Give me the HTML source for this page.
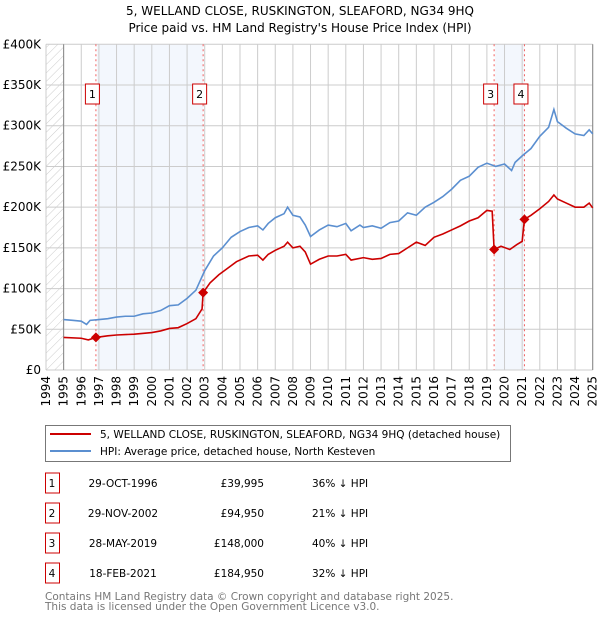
<!DOCTYPE html>
<html><head><meta charset="utf-8"><style>
body{margin:0;background:#fff}
svg{font-family:"DejaVu Sans","Liberation Sans",sans-serif}
</style></head><body>
<svg id="chart" width="600" height="620" xmlns="http://www.w3.org/2000/svg">
<defs><pattern id="hatch" width="6" height="6" patternUnits="userSpaceOnUse" patternTransform="rotate(45)"><line x1="0" y1="0" x2="0" y2="6" stroke="#ccc" stroke-width="1"/></pattern></defs>
<text x="300" y="15" text-anchor="middle" font-size="12">5, WELLAND CLOSE, RUSKINGTON, SLEAFORD, NG34 9HQ</text>
<text x="300" y="32" text-anchor="middle" font-size="12">Price paid vs. HM Land Registry's House Price Index (HPI)</text>
<g id="plot"></g>
<g>
<rect x="45.5" y="425.5" width="465" height="36" fill="#fff" stroke="#777"/>
<line x1="50" y1="434" x2="91" y2="434" stroke="#cc0000" stroke-width="2"/>
<text x="100" y="438" font-size="10.5">5, WELLAND CLOSE, RUSKINGTON, SLEAFORD, NG34 9HQ (detached house)</text>
<line x1="50" y1="451" x2="91" y2="451" stroke="#5b8fd0" stroke-width="2"/>
<text x="100" y="455" font-size="10.5">HPI: Average price, detached house, North Kesteven</text>
</g>
<g id="table" font-size="10.5"></g>
<text x="45" y="600" font-size="10.5" fill="#777">Contains HM Land Registry data © Crown copyright and database right 2025.</text>
<text x="45" y="610" font-size="10.5" fill="#777">This data is licensed under the Open Government Licence v3.0.</text>
</svg>
<script>
const hpiYears=[1995,1995.5,1996,1996.3,1996.5,1997,1997.5,1998,1998.5,1999,1999.5,2000,2000.5,2001,2001.5,2002,2002.5,2003,2003.5,2004,2004.5,2005,2005.5,2006,2006.3,2006.6,2007,2007.5,2007.7,2008,2008.4,2008.7,2009,2009.5,2010,2010.5,2011,2011.3,2011.8,2012,2012.5,2013,2013.5,2014,2014.5,2015,2015.5,2016,2016.5,2017,2017.5,2018,2018.5,2019,2019.5,2020,2020.4,2020.6,2021,2021.5,2022,2022.5,2022.8,2023,2023.5,2024,2024.5,2024.8,2025];
const hpiValues=[62,61,60,56,61,62,63,65,66,66,69,70,73,79,80,88,98,122,140,150,163,170,175,177,172,180,187,192,200,190,188,178,164,172,178,176,180,171,178,175,177,174,181,183,193,190,200,206,213,222,233,238,249,254,250,253,245,255,263,272,287,298,320,305,297,290,288,295,290];
const ppYears=[1995,1996,1996.4,1996.83,1997.5,1998,1999,2000,2000.5,2001,2001.5,2002,2002.5,2002.85,2002.91,2003.3,2003.8,2004.3,2004.8,2005.5,2006,2006.3,2006.6,2007,2007.5,2007.7,2008,2008.4,2008.7,2009,2009.5,2010,2010.5,2011,2011.3,2012,2012.5,2013,2013.5,2014,2014.5,2015,2015.5,2016,2016.5,2017,2017.5,2018,2018.5,2019,2019.3,2019.41,2019.8,2020.3,2020.7,2021.0,2021.13,2021.5,2022,2022.5,2022.8,2023,2023.5,2024,2024.5,2024.8,2025];
const ppValues=[40,39,37,40,42,43,44,46,48,51,52,57,63,75,95,107,117,125,133,140,141,135,142,147,152,157,150,152,145,130,136,140,140,142,135,138,136,137,142,143,150,157,153,163,167,172,177,183,187,196,195,148,152,148,154,158,185,190,198,207,215,210,205,200,200,205,199];
const saleYears=[1996.83,2002.91,2019.41,2021.13];
const saleValues=[39.995,94.95,148,184.95];
const saleLabels=["1","2","3","4"];
const saleDates=["29-OCT-1996","29-NOV-2002","28-MAY-2019","18-FEB-2021"];
const salePrices=["£39,995","£94,950","£148,000","£184,950"];
const saleDiffs=["36% ↓ HPI","21% ↓ HPI","40% ↓ HPI","32% ↓ HPI"];
const yTicks=[0,50,100,150,200,250,300,350,400];
const yTickLabels=["£0","£50K","£100K","£150K","£200K","£250K","£300K","£350K","£400K"];
const xTicks=[1994,1995,1996,1997,1998,1999,2000,2001,2002,2003,2004,2005,2006,2007,2008,2009,2010,2011,2012,2013,2014,2015,2016,2017,2018,2019,2020,2021,2022,2023,2024,2025];

const NS="http://www.w3.org/2000/svg";
const X0=46,X1=592.7,Y0=370,Y1=44.3;
const xs=y=>X0+(y-1994)/31*(X1-X0);
const ys=v=>Y0-v/400*(Y0-Y1);
const plot=document.getElementById('plot');
function mk(tag,attrs,parent){const e=document.createElementNS(NS,tag);for(const k in attrs)e.setAttribute(k,attrs[k]);(parent||plot).appendChild(e);return e;}

let r=mk('rect',{x:X0,y:Y1,width:xs(1995)-X0,height:Y0-Y1,fill:'url(#hatch)'});


for(let i=0;i<2;i++){
 const s=mk('rect',{x:xs(saleYears[i*2])+1,y:Y1,width:xs(saleYears[i*2+1])-xs(saleYears[i*2])-1,height:Y0-Y1,fill:'#f3f7fd'});
 
 
}
yTicks.forEach((t,i)=>{
 const l=mk('line',{x1:X0,x2:X1,y1:ys(t),y2:ys(t),stroke:'#ccc'});
 
 
 const tx=mk('text',{x:X0-5,y:ys(t)+4,'text-anchor':'end','font-size':12});
 tx.textContent=yTickLabels[i];
 
 
});
xTicks.forEach(t=>{
 const l=mk('line',{x1:xs(t),x2:xs(t),y1:Y1,y2:Y0,stroke:'#ccc'});
 
 
 const tx=mk('text',{x:0,y:0,'text-anchor':'end','font-size':12,transform:`translate(${xs(t)+4},${Y0+6}) rotate(-90)`});
 tx.textContent=t;
 
 
});
let ax=mk('line',{x1:xs(1995),x2:xs(1995),y1:Y1,y2:Y0,stroke:'#888'});


let ax2=mk('line',{x1:X1,x2:X1,y1:Y1,y2:Y0,stroke:'#888'});


saleYears.forEach((y,i)=>{
 const l=mk('line',{x1:xs(y),x2:xs(y),y1:Y1,y2:Y0,stroke:'#f06060','stroke-dasharray':'2,3'});
 
 
 const b=mk('rect',{x:xs(y)-3.5-7,y:84,width:14,height:20,fill:'#fff',stroke:'#cc0000'});
 
 
 const t=mk('text',{x:xs(y)-3.5,y:98,'text-anchor':'middle','font-size':11});
 t.textContent=saleLabels[i];
 
 
});
const hp=mk('polyline',{points:hpiYears.map((y,i)=>xs(y)+','+ys(hpiValues[i])).join(' '),fill:'none',stroke:'#5b8fd0','stroke-width':1.6});


const pp=mk('polyline',{points:ppYears.map((y,i)=>xs(y)+','+ys(ppValues[i])).join(' '),fill:'none',stroke:'#cc0000','stroke-width':1.6});


saleYears.forEach((y,i)=>{
 const cx=xs(y),cy=ys(saleValues[i]);
 const d=mk('polygon',{points:`${cx},${cy-5} ${cx+5},${cy} ${cx},${cy+5} ${cx-5},${cy}`,fill:'#cc0000'});
 
 
});
const tbl=document.getElementById('table');
saleLabels.forEach((lab,i)=>{
 const cy=483+i*30;
 const b=mk('rect',{x:45.5,y:cy-10,width:14,height:20,fill:'#fff',stroke:'#cc0000'},tbl);
 
 
 const cells=[[52,lab,'middle'],[123,saleDates[i],'middle'],[264,salePrices[i],'end'],[312,saleDiffs[i],'start']];
 cells.forEach(c=>{
  const t=mk('text',{x:c[0],y:cy+4,'text-anchor':c[2]},tbl);
  t.textContent=c[1];
  
  
 });
});
</script>
</body></html>
